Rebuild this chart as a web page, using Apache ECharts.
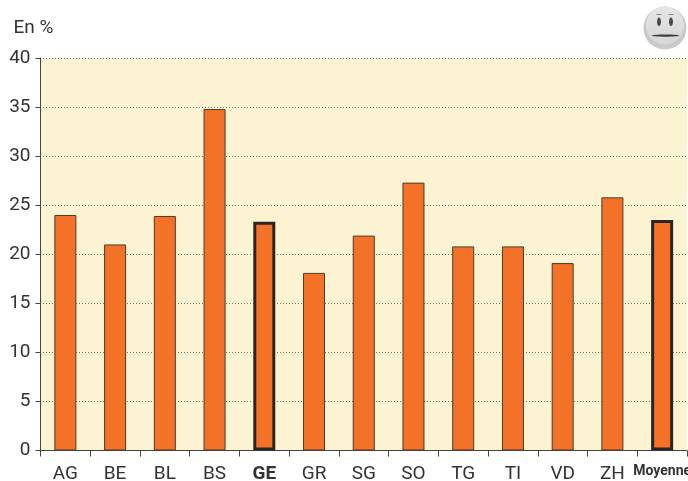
<!DOCTYPE html>
<html><head><meta charset="utf-8">
<style>html,body{margin:0;padding:0;background:#fff}#c{width:688px;height:481px}</style>
<script src="https://cdn.jsdelivr.net/npm/echarts@6/dist/echarts.min.js"></script>
</head><body><div id="c"></div>
<script>
const categories = ['AG','BE','BL','BS','GE','GR','SG','SO','TG','TI','VD','ZH','Moyenne'];
const values = [24.0,21.0,23.9,34.8,23.3,18.1,21.9,27.3,20.8,20.8,19.1,25.8,23.5];
const highlighted = ['GE','Moyenne'];
const yTicks = {min:0,max:40,interval:5};
const yUnit = 'En %';
const font = 'Roboto,"Liberation Sans",Arial,sans-serif';
const _get = HTMLCanvasElement.prototype.getContext;
HTMLCanvasElement.prototype.getContext = function(){
  const ctx = _get.apply(this, arguments);
  if (ctx && 'fontStretch' in ctx) ctx.fontStretch = 'condensed';
  return ctx;
};
const chart = echarts.init(document.getElementById('c'),null,{renderer:'canvas'});
chart.setOption({
  animation:false,
  grid:{left:40.5,right:1,top:58,bottom:30.5,backgroundColor:'#fcf3d3',show:true,borderWidth:0,outerBoundsMode:'none'},
  graphic:[
    {type:'circle',shape:{cx:665,cy:28,r:21.5},style:{fill:'#c9c9ca'},z:10},
    {type:'circle',shape:{cx:665,cy:25.5,r:19},style:{fill:{type:'linear',x:0,y:0,x2:0,y2:1,colorStops:[{offset:0,color:'#e6e6e7'},{offset:1,color:'#d6d6d7'}]}},z:11},
    {type:'ellipse',shape:{cx:659,cy:21.7,rx:2,ry:4.3},style:{fill:'#4a4a4a'},z:12},
    {type:'ellipse',shape:{cx:671,cy:21.7,rx:2,ry:4.3},style:{fill:'#4a4a4a'},z:12},
    {type:'line',shape:{x1:656.5,y1:14.5,x2:661.5,y2:14.5},style:{stroke:'#8a8a8a',lineWidth:1},z:12},
    {type:'line',shape:{x1:668.5,y1:14.5,x2:673.5,y2:14.5},style:{stroke:'#8a8a8a',lineWidth:1},z:12},
    {type:'ellipse',shape:{cx:665.5,cy:35.6,rx:14,ry:1.2},style:{fill:'#3c3c3c'},z:12}
  ],
  xAxis:{type:'category',data:categories,
    axisLine:{lineStyle:{color:'#444',width:1}},
    axisTick:{show:true,length:6,alignWithLabel:false,lineStyle:{color:'#444',width:1}},
    axisLabel:{interval:0,margin:14,color:'#333',fontFamily:font,fontSize:19,hideOverlap:false,
      formatter:v=>v==='Moyenne'?'{m|'+v+'}':highlighted.includes(v)?'{b|'+v+'}':v,
      rich:{b:{fontFamily:font,fontSize:19,fontWeight:'bold',color:'#333'},
            m:{fontFamily:font,fontSize:14,fontWeight:'bold',color:'#333'}}}},
  yAxis:{type:'value',...yTicks,name:yUnit,nameLocation:'end',nameGap:20,
    nameTextStyle:{color:'#333',fontFamily:font,fontSize:19,align:'left',padding:[0,0,0,-27]},
    axisLine:{show:true,lineStyle:{color:'#444',width:1}},
    axisTick:{show:true,length:5,lineStyle:{color:'#444',width:1}},
    axisLabel:{margin:10,color:'#333',fontFamily:font,fontSize:19},
    splitLine:{show:true,lineStyle:{color:'#77775c',type:[1,2],dashOffset:0.5,width:1}}},
  series:[{type:'bar',barWidth:22,
    data:values.map((v,i)=>{
      const h=highlighted.includes(categories[i]);
      return {value:v,itemStyle:{color:'#f47227',borderColor:h?'#2a2522':'#4a3a30',borderWidth:h?3:1}};
    })}]
});
</script></body></html>
